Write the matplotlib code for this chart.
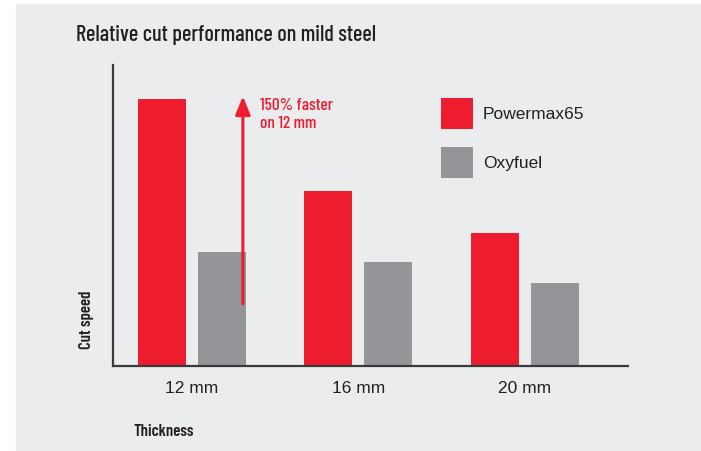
import matplotlib.pyplot as plt
import numpy as np

categories = ["12 mm", "16 mm", "20 mm"]
powermax = [88.7, 58.1, 44.2]
oxyfuel = [37.9, 34.6, 27.6]

red = "#ed1c2e"
grey = "#939598"
bg = "#ebecee"
dark = "#231f20"
narrow = ["Barlow Condensed", "Archivo Narrow", "DejaVu Sans"]
plain = ["Liberation Sans", "DejaVu Sans"]

fig = plt.figure(figsize=(7.01, 4.51), dpi=100)
# grey panel with a white strip on the left and top
fig.patches.append(plt.Rectangle((16 / 701, 0), 1, 447 / 451, transform=fig.transFigure,
                                 color=bg, zorder=-10))

ax = fig.add_axes([113 / 701, 85 / 451, 515 / 701, 301 / 451])
ax.set_facecolor("none")

x = np.arange(len(categories))
w = 0.288
off = 0.18
ax.bar(x - off, powermax, w, color=red, label="Powermax65")
ax.bar(x + off, oxyfuel, w, color=grey, label="Oxyfuel")

ax.set_xlim(-0.474, 2.619)
ax.set_ylim(0, 100)
ax.set_xticks(x)
ax.set_xticklabels(categories, fontsize=12.5, color=dark, family=plain)
ax.tick_params(length=0, pad=11)
ax.set_yticks([])
for s in ["top", "right"]:
    ax.spines[s].set_visible(False)
for s in ["left", "bottom"]:
    ax.spines[s].set_color("#3a3a3a")
    ax.spines[s].set_linewidth(1.6)

# arrow + note
ax.annotate("", xy=(0.306, 89.6), xytext=(0.306, 20.6),
            arrowprops=dict(arrowstyle="-|>,head_length=1.1,head_width=0.45",
                            color=red, lw=2.2, shrinkA=0, shrinkB=0))
ax.text(0.41, 89.1, "150% faster\non 12 mm", color=red, fontsize=12.5,
        family=narrow, fontweight="medium", va="top", ha="left", linespacing=1.3)

ax.legend(loc="upper left", bbox_to_anchor=(0.606, 0.942), frameon=False,
          prop={"family": plain, "size": 12.5}, handlelength=1.84, handleheight=2.4,
          labelspacing=1.0, handletextpad=0.6, labelcolor=dark)

fig.text(76 / 701, 1 - 41 / 451, "Relative cut performance on mild steel", fontsize=16,
         family=narrow, fontweight="medium", color=dark, va="baseline", ha="left")
fig.text(86 / 701, 1 - 320 / 451, "Cut speed", rotation=90, fontsize=12, family=narrow,
         fontweight="semibold", color=dark, va="center", ha="center")
fig.text(134 / 701, 1 - 432 / 451, "Thickness", fontsize=12, family=narrow,
         fontweight="semibold", color=dark, va="center", ha="left")

fig.savefig("out.png", dpi=100, facecolor="white")
